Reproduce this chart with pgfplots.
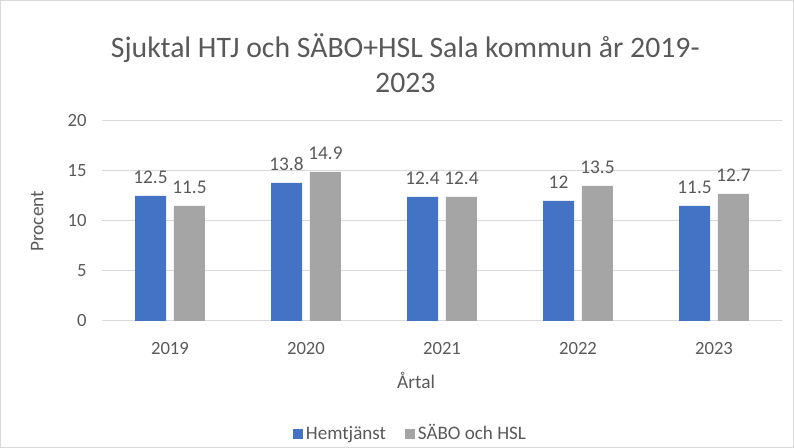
\documentclass[border=0pt]{standalone}
\usepackage{pgfplots}
\pgfplotsset{compat=1.18}
\usepackage{fontspec}
\setmainfont{Carlito}
\definecolor{txt}{HTML}{595959}
\definecolor{gridc}{HTML}{D9D9D9}
\definecolor{blueb}{HTML}{4472C4}
\definecolor{grayb}{HTML}{A5A5A5}
\begin{document}
\begin{tikzpicture}[x=1pt,y=1pt]
\draw[gridc, line width=0.75pt] (0.4,0.4) rectangle (595.1,335.6);
\begin{axis}[
  at={(76.5pt,95.25pt)}, anchor=south west,
  scale only axis, width=510pt, height=150pt,
  xmin=-0.5, xmax=4.5, ymin=0, ymax=20,
  ytick={0,5,10,15,20},
  xtick={0,1,2,3,4},
  xticklabels={2019,2020,2021,2022,2023},
  axis x line*=bottom, axis y line*=left,
  x axis line style={gridc, line width=0.75pt, -},
  y axis line style={draw=none},
  ymajorgrids, grid style={gridc, line width=0.75pt},
  major tick length=0pt,
  tick label style={font=\fontsize{14}{16}\selectfont, text=txt},
  yticklabel style={xshift=-8pt},
  xticklabel style={yshift=-12.5pt},
  /pgf/number format/assume math mode=true,
  ybar, bar width=23.25pt,
  nodes near coords,
  nodes near coords style={font=\fontsize{14.5}{16}\selectfont, text=txt, yshift=6pt},
  clip=false,
]
\addplot[draw=none, fill=blueb, bar shift=-14.6pt] coordinates {(0,12.5) (1,13.8) (2,12.4) (3,12) (4,11.5)};
\addplot[draw=none, fill=grayb, bar shift=14.6pt] coordinates {(0,11.5) (1,14.9) (2,12.4) (3,13.5) (4,12.7)};
\end{axis}
\node[text=txt, font=\fontsize{22.3}{26}\selectfont, align=center] at (304pt,288.5pt) {Sjuktal HTJ och SÄBO+HSL Sala kommun år 2019-\\2023};
\node[text=txt, font=\fontsize{14.5}{17}\selectfont, rotate=90] at (28pt,170pt) {Procent};
\node[text=txt, font=\fontsize{14.5}{17}\selectfont] at (312pt,51pt) {Årtal};
\node[font=\fontsize{14.3}{16}\selectfont, text=txt] at (307pt,11.25pt) {\textcolor{blueb}{\rule{7.5pt}{7.5pt}}\,Hemtjänst\hspace{14pt}\textcolor{grayb}{\rule{7.5pt}{7.5pt}}\,SÄBO och HSL};
\end{tikzpicture}
\end{document}
